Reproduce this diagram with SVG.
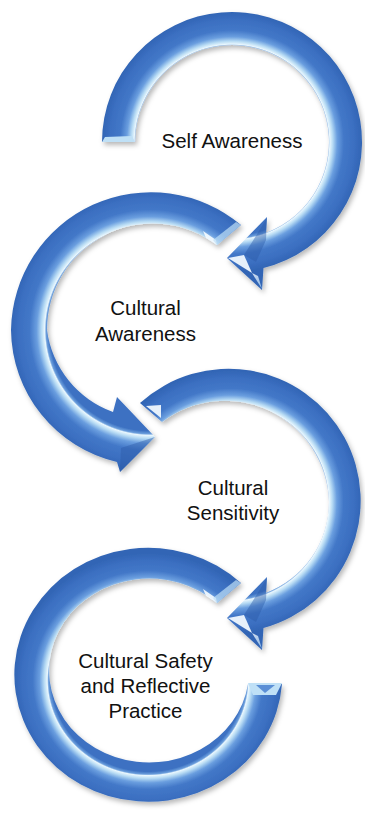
<svg xmlns="http://www.w3.org/2000/svg" xmlns:xlink="http://www.w3.org/1999/xlink" width="365" height="817" viewBox="0 0 365 817">
  <style>
    .label { font-family: "Liberation Sans", Arial, sans-serif; font-size: 20.5px; fill: #111; text-anchor: middle; }
    .ring { filter: url(#shadow); }
    .shine { fill: #f4fbff; opacity: 0.92; }
    .facet-dark { fill: #2c5ca8; opacity: 0.45; }
    .cap { fill: #bfe0f6; }
  </style>
  <defs>
    <!-- tube shading: thin bright inner rim fading to mid blue at the outer rim -->
    <radialGradient id="tube">
      <stop offset="0" stop-color="#3c71c2"/>
      <stop offset="0.72" stop-color="#3c71c2"/>
      <stop offset="0.742" stop-color="#6b9edc"/>
      <stop offset="0.752" stop-color="#e9f7fe"/>
      <stop offset="0.775" stop-color="#b7dbf4"/>
      <stop offset="0.81" stop-color="#6a9edf"/>
      <stop offset="0.86" stop-color="#4378c8"/>
      <stop offset="0.94" stop-color="#3b6fc1"/>
      <stop offset="1" stop-color="#3265b5"/>
    </radialGradient>
    <radialGradient id="g1" xlink:href="#tube" gradientUnits="userSpaceOnUse" cx="232" cy="142" r="130"/>
    <radialGradient id="g2" xlink:href="#tube" gradientUnits="userSpaceOnUse" cx="150" cy="330" r="140"/>
    <radialGradient id="g3" xlink:href="#tube" gradientUnits="userSpaceOnUse" cx="230" cy="502" r="132"/>
    <radialGradient id="g4" xlink:href="#tube" gradientUnits="userSpaceOnUse" cx="148" cy="680" r="134" gradientTransform="translate(148 680) scale(1 0.948) translate(-148 -680)"/>
    <linearGradient id="tipShine" x1="0" y1="0" x2="1" y2="1">
      <stop offset="0" stop-color="#ffffff"/>
      <stop offset="1" stop-color="#9fcaef"/>
    </linearGradient>
    <filter id="shadow" x="-15%" y="-15%" width="135%" height="135%">
      <feDropShadow dx="2" dy="3" stdDeviation="2.5" flood-color="#000" flood-opacity="0.28"/>
    </filter>
  </defs>

  <!-- stage 1: clockwise arrow, head pointing left at the bottom -->
  <g id="self-awareness">
    <path class="ring" fill="url(#g1)" d="M 102,142 A 130 130 0 1 1 263.5,268.1 L 262,290 L 227,258 L 267,217 L 265.9,232.9 A 97 97 0 1 0 135,142 Z"/>
    <polygon class="shine" points="228,258 244,255 252,273"/>
    <polygon class="facet-dark" points="244,255 267,218 266,240 256,262"/>
    <polygon fill="url(#tipShine)" opacity="0.8" points="252,273 262,289 258,276"/>
    <polygon class="cap" points="102,142 135,142 132,136 105,137"/>
    <text class="label" x="232" y="148">Self Awareness</text>
  </g>

  <!-- stage 2: anticlockwise arrow, head pointing right at the bottom -->
  <g id="cultural-awareness">
    <path class="ring" fill="url(#g2)" d="M 241,225 A 140 140 0 0 0 11,330 A 137 137 0 0 0 117,462 L 120,472 L 155,437 L 117,397 L 113,412 A 101 101 0 0 1 47,330 A 106 106 0 0 1 217,245 Z"/>
    <polygon class="facet-dark" points="155,437 120,472 121,448"/>
    <polygon class="shine" points="203,231 216,240 217,245 206,238"/>
    <polygon class="cap" opacity="0.7" points="241,225 217,245 213,240 236,222"/>
    <text class="label" x="145.5" y="315">Cultural</text>
    <text class="label" x="145.5" y="340.5">Awareness</text>
  </g>

  <!-- stage 3: clockwise arrow, head pointing left at the bottom -->
  <g id="cultural-sensitivity">
    <path class="ring" fill="url(#g3)" d="M 140,403 A 132 132 0 1 1 263.5,628.1 L 262,650 L 227,618 L 267,577 L 265.9,592.9 A 97 97 0 0 0 329,502 A 104 104 0 0 0 162,422 Z"/>
    <polygon class="shine" points="228,618 244,615 252,633"/>
    <polygon class="facet-dark" points="244,615 267,578 266,600 256,622"/>
    <polygon fill="url(#tipShine)" opacity="0.8" points="252,633 262,649 258,636"/>
    <polygon class="shine" points="146,406 161,405 161,418"/>
    <text class="label" x="233" y="495">Cultural</text>
    <text class="label" x="233" y="520">Sensitivity</text>
  </g>

  <!-- stage 4: open ring closing the cycle -->
  <g id="cultural-safety">
    <path class="ring" fill="url(#g4)" d="M 241,583 A 134 127 0 1 0 282,684 L 248,684 A 100 92 0 1 1 217,603 Z"/>
    <polygon class="cap" points="248,683 282,683 276,695 253,695"/>
    <polygon fill="#5b8fd6" points="256,685 275,685 265,693"/>
    <polygon class="shine" points="203,589 216,598 217,603 206,596"/>
    <polygon class="cap" opacity="0.7" points="241,583 217,603 213,598 236,580"/>
    <text class="label" x="145.5" y="668">Cultural Safety</text>
    <text class="label" x="145.5" y="693">and Reflective</text>
    <text class="label" x="145.5" y="718">Practice</text>
  </g>

  <g id="connectors"/>
</svg>
